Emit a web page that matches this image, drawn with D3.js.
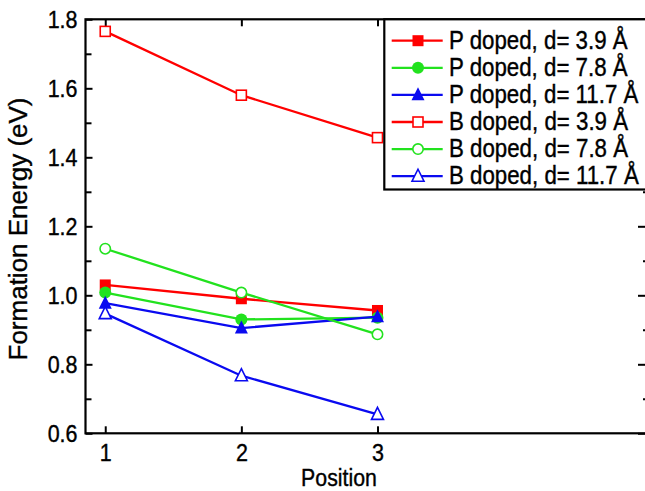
<!DOCTYPE html>
<html>
<head>
<meta charset="utf-8">
<script src="https://cdn.jsdelivr.net/npm/d3@7/dist/d3.min.js"></script>
<style>
  html, body { margin: 0; padding: 0; background: #fff; }
  svg { display: block; }
  text { font-family: "Liberation Sans", Arial, sans-serif; fill: #000; stroke: #000; stroke-width: 0.35px; }
</style>
</head>
<body>
<svg id="chart" width="645" height="491"></svg>
<script>
// Formation energy of doped configurations vs. dopant position
const positions = [1, 2, 3];
const seriesNames = [
  "P doped, d= 3.9 Å",
  "P doped, d= 7.8 Å",
  "P doped, d= 11.7 Å",
  "B doped, d= 3.9 Å",
  "B doped, d= 7.8 Å",
  "B doped, d= 11.7 Å"
];
const pDoped39  = [1.030, 0.990, 0.956];
const pDoped78  = [1.008, 0.930, 0.935];
const pDoped117 = [0.977, 0.905, 0.938];
const bDoped39  = [1.765, 1.580, 1.457];
const bDoped78  = [1.135, 1.008, 0.887];
const bDoped117 = [0.947, 0.767, 0.655];
const yMajorTicks = [0.6, 0.8, 1.0, 1.2, 1.4, 1.6, 1.8];
const yMinorTicks = [0.7, 0.9, 1.1, 1.3, 1.5, 1.7];
const xTickValues = [1, 2, 3];

const seriesValues = [pDoped39, pDoped78, pDoped117, bDoped39, bDoped78, bDoped117];
const seriesColors = ["#ff0000", "#22e21e", "#0a0af0", "#ff0000", "#22e21e", "#0a0af0"];
const seriesShapes = ["square", "circle", "triangle", "square", "circle", "triangle"];
const seriesFilled = [true, true, true, false, false, false];

const svg = d3.select("#chart");
const plotLeft = 85.5, plotRight = 647, plotTop = 19.3, plotBottom = 433.3;
const textStretch = 1.12;   // glyphs are a little taller than wide

const x = d3.scaleLinear().domain([0.855, 4.98]).range([plotLeft, plotRight]);
const y = d3.scaleLinear().domain([0.6, 1.8]).range([plotBottom, plotTop]);

const axisStroke = 2.2;

// Axes: ticks point into the plot area
const yAxisG = svg.append("g").attr("transform", `translate(${plotLeft},0)`)
  .call(d3.axisLeft(y).tickValues(yMajorTicks).tickSize(-7).tickPadding(8)
    .tickFormat(d3.format(".1f")));
svg.append("g").attr("transform", `translate(${plotLeft},0)`)
  .call(d3.axisLeft(y).tickValues(yMinorTicks).tickSize(-6).tickFormat(""));
svg.append("g").attr("transform", `translate(${plotRight},0)`)
  .call(d3.axisRight(y).tickValues(yMajorTicks).tickSize(-9).tickFormat(""));
svg.append("g").attr("transform", `translate(${plotRight},0)`)
  .call(d3.axisRight(y).tickValues(yMinorTicks).tickSize(-4).tickFormat(""));
const xAxisG = svg.append("g").attr("transform", `translate(0,${plotBottom})`)
  .call(d3.axisBottom(x).tickValues(xTickValues).tickSize(-7).tickPadding(9.5)
    .tickFormat(d3.format("d")));
svg.append("g").attr("transform", `translate(0,${plotTop})`)
  .call(d3.axisTop(x).tickValues(xTickValues).tickSize(-7).tickFormat(""));

svg.selectAll(".domain").remove();
svg.selectAll(".tick line").attr("stroke", "#000").attr("stroke-width", 2);
svg.selectAll(".tick text").attr("font-size", 21.5)
  .attr("font-family", "'Liberation Sans', Arial, sans-serif").attr("fill", "#000")
  .attr("transform", `scale(1,${textStretch})`);

// Plot frame
svg.append("rect")
  .attr("x", plotLeft).attr("y", plotTop)
  .attr("width", plotRight - plotLeft).attr("height", plotBottom - plotTop)
  .attr("fill", "none").attr("stroke", "#000").attr("stroke-width", axisStroke);

// Axis titles
svg.append("text")
  .attr("transform", `translate(339,486) scale(1,${textStretch})`)
  .attr("text-anchor", "middle").attr("font-size", 21.3)
  .text("Position");
svg.append("text")
  .attr("transform", "translate(27,229) rotate(-90)")
  .attr("text-anchor", "middle").attr("font-size", 26)
  .text("Formation Energy (eV)");

// Marker drawing helper
function drawMarker(g, shape, cx, cy, color, filled) {
  let m;
  if (shape === "square") {
    const s = filled ? 11 : 10;
    m = g.append("rect").attr("x", cx - s / 2).attr("y", cy - s / 2)
      .attr("width", s).attr("height", s);
  } else if (shape === "circle") {
    const r = filled ? 6 : 5.2;
    m = g.append("circle").attr("cx", cx).attr("cy", cy).attr("r", r);
  } else {
    const h = filled ? 13 : 12;
    const w = filled ? 13 : 12;
    m = g.append("path")
      .attr("d", `M${cx},${cy - h * 0.58}L${cx + w / 2},${cy + h * 0.42}L${cx - w / 2},${cy + h * 0.42}Z`);
  }
  if (filled) m.attr("fill", color).attr("stroke", "none");
  else m.attr("fill", "#fff").attr("stroke", color).attr("stroke-width", 1.6);
}

const line = d3.line().x((d, i) => x(positions[i])).y(d => y(d));
const plot = svg.append("g");
seriesValues.forEach((vals, k) => {
  const g = plot.append("g");
  g.append("path").datum(vals).attr("d", line)
    .attr("fill", "none").attr("stroke", seriesColors[k]).attr("stroke-width", 2.3);
  vals.forEach((v, i) => drawMarker(g, seriesShapes[k], x(positions[i]), y(v), seriesColors[k], seriesFilled[k]));
});

// Legend
const lg = svg.append("g");
lg.append("rect").attr("x", 384.3).attr("y", plotTop).attr("width", 300).attr("height", 189.5 - plotTop)
  .attr("fill", "#fff").attr("stroke", "#000").attr("stroke-width", axisStroke);
seriesNames.forEach((name, k) => {
  const cy = 40.7 + k * 27.1;
  lg.append("line").attr("x1", 391.7).attr("x2", 442.7).attr("y1", cy).attr("y2", cy)
    .attr("stroke", seriesColors[k]).attr("stroke-width", 2.3);
  drawMarker(lg, seriesShapes[k], 418, cy, seriesColors[k], seriesFilled[k]);
  lg.append("text")
    .attr("transform", `translate(449,${cy}) scale(1,${textStretch})`)
    .attr("y", 7.2).attr("font-size", 22.3).text(name);
});
</script>
</body>
</html>
